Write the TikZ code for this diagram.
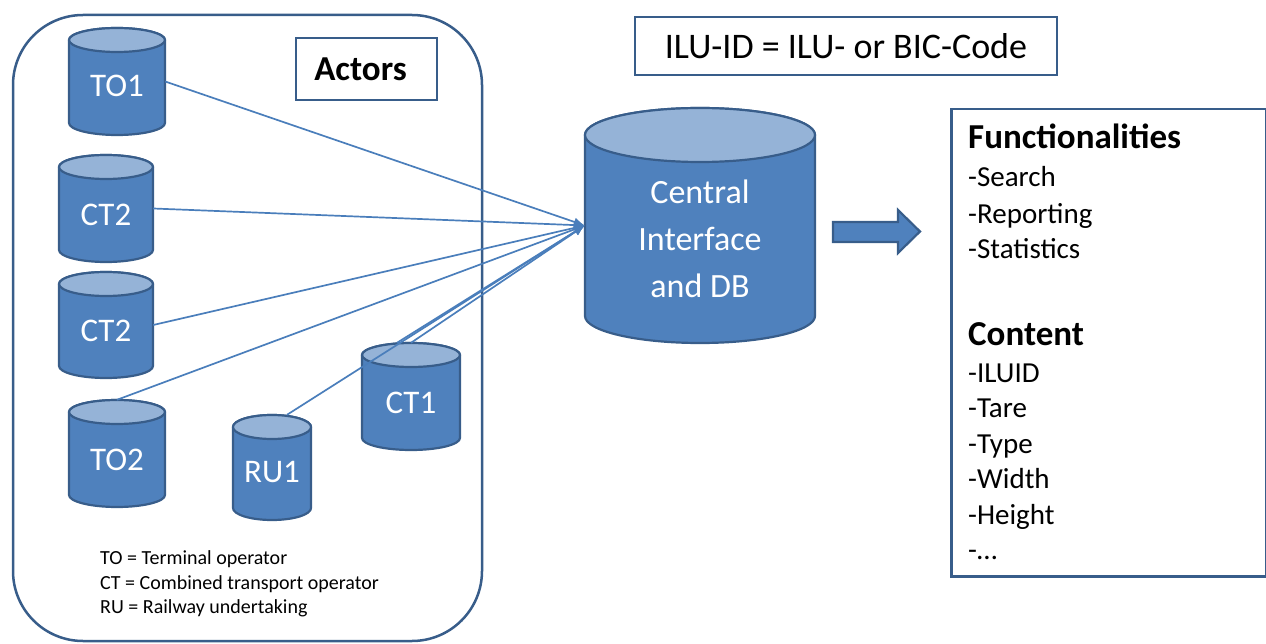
\documentclass[tikz,border=0pt]{standalone}
\usepackage{fontspec}
\setmainfont{Carlito}
\usetikzlibrary{arrows.meta}
\definecolor{cylfill}{HTML}{4F81BD}
\definecolor{cyledge}{HTML}{385D8A}
\definecolor{cyltopc}{HTML}{95B3D7}
\definecolor{linkc}{HTML}{4A7EBB}
\tikzset{
  cylbody/.style={fill=cylfill, draw=cyledge, line width=2.2pt},
  cyltop/.style={fill=cyltopc, draw=cyledge, line width=2.2pt},
  cyllabel/.style={rectangle, draw=none, inner sep=0pt, text=white, font=\fontsize{33}{36}\selectfont},
  boxframe/.style={draw=cyledge, line width=2.5pt, fill=white},
  link/.style={draw=linkc, line width=1.7pt, -{Latex[length=11pt,width=9pt]}},
  blockarrow/.style={fill=cylfill, draw=cyledge, line width=2.2pt, line join=miter},
}
\newcommand\drawcyl[8]{%
  \path[cylbody] ({#2-#3},{#4+#6}) -- ({#2-#3},{#5-#6})
    arc[start angle=180,end angle=360,x radius=#3pt,y radius=#6pt]
    -- ({#2+#3},{#4+#6})
    arc[start angle=0,end angle=180,x radius=#3pt,y radius=#6pt] -- cycle;
  \path[cyltop] (#2,{#4+#6}) ellipse[x radius=#3pt,y radius=#6pt];
  \node[cyllabel, minimum width={2*#3pt}, minimum height={(#5-#4)*1pt}] (#1) at (#2,{(#4+#5)/2}) {\raisebox{#8}[0pt][0pt]{#7}};
}
\begin{document}
\begin{tikzpicture}[x=1pt,y=-1pt]
\useasboundingbox (0,0) rectangle (1266,644);
% actors group
\draw[draw=cyledge, line width=2.5pt, rounded corners=70pt] (13,15) rectangle (482,641);
\node[boxframe, minimum width=141pt, minimum height=62pt, inner sep=0pt, font=\fontsize{35}{40}\selectfont\bfseries] (actors) at (366.5,69) {\hspace*{-12pt}Actors};
% cylinders
\drawcyl{TO1}{117}{48}{28}{135}{12}{TO1}{-15pt}
\drawcyl{CT2a}{106}{47}{155}{262}{12}{CT2}{-17pt}
\drawcyl{CT2b}{106}{47}{272}{378}{12}{CT2}{-16pt}
\drawcyl{TO2}{117}{48}{400}{507}{12}{TO2}{-17pt}
\drawcyl{RU1}{272}{39}{415}{520}{12}{RU1}{-15pt}
\drawcyl{CT1}{411}{49}{343}{450}{12}{CT1}{-17pt}
% central DB
\path[cylbody] (585,135) -- (585,316)
  arc[start angle=180,end angle=360,x radius=115pt,y radius=27pt]
  -- (815,135)
  arc[start angle=0,end angle=180,x radius=115pt,y radius=27pt] -- cycle;
\path[cyltop] (700,135) ellipse[x radius=115pt,y radius=27pt];
\node[rectangle, inner sep=0pt, minimum width=230pt, minimum height=235pt, text=white, align=center, font=\fontsize{34}{47}\selectfont] (DB) at (700,225.5) {\raisebox{-22pt}[0pt][0pt]{\begin{tabular}{@{}c@{}}Central\\Interface\\and DB\end{tabular}}};
% legend
\node[anchor=west, align=left, inner sep=0pt, font=\fontsize{20}{24.5}\selectfont] (legend) at (100,584) {TO = Terminal operator\\CT = Combined transport operator\\RU = Railway undertaking};
% connectors
\draw[link] (TO1.east) -- (DB.west);
\draw[link] (CT2a.east) -- (DB.west);
\draw[link] (CT2b.east) -- (DB.west);
\draw[link] (TO2.north) -- (DB.west);
\draw[link] ([xshift=15pt]RU1.north) -- (DB.west);
\draw[link] ([xshift=-14pt]CT1.north) -- (DB.west);
\draw[link] (CT1.north) -- (DB.west);
% block arrow
\draw[blockarrow] (833,222) -- (898,222) -- (898,210) -- (920,231.5) -- (898,253) -- (898,242) -- (833,242) -- cycle;
% ILU box
\node[boxframe, minimum width=422pt, minimum height=58pt, inner sep=0pt, font=\fontsize{36}{40}\selectfont] (ilu) at (846,46) {\raisebox{-1pt}{ILU-ID = ILU- or BIC-Code}};
% functionalities box
\node[boxframe, anchor=north west, minimum width=315pt, minimum height=467pt, inner sep=0pt] (func) at (950,108) {};
\node[anchor=north west, align=left, inner sep=0pt, font=\fontsize{29}{35}\selectfont] (functext) at (968,124)
 {{\fontsize{35}{35}\selectfont\bfseries Functionalities}\\[3pt]-Search\\[2pt]-Reporting\\-Statistics\\[52pt]{\fontsize{35}{35}\selectfont\bfseries Content}\\[2pt]-ILUID\\-Tare\\[1pt]-Type\\-Width\\[1pt]-Height\\-\dots};
\end{tikzpicture}
\end{document}
